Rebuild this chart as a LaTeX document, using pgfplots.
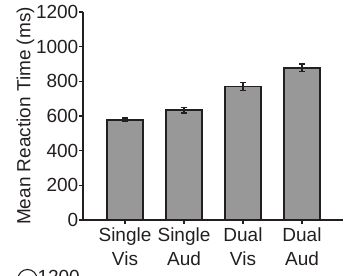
\documentclass[border=0pt]{standalone}
\usepackage{fontspec}
\setmainfont{Liberation Sans}
\usepackage{pgfplots}
\pgfplotsset{compat=1.18}
\definecolor{txt}{RGB}{35,31,32}
\definecolor{barfill}{RGB}{152,152,152}
\newcommand{\lab}{\fontsize{19bp}{24bp}\selectfont}
\begin{document}
\begin{tikzpicture}
\useasboundingbox (0,0) rectangle (346bp,-276bp);
\begin{axis}[
  at={(83bp,-220bp)}, anchor=south west,
  scale only axis, width=260bp, height=208bp,
  xmin=-0.712, xmax=3.695, ymin=0, ymax=1200,
  ybar, bar width=36bp,
  axis x line=bottom, axis y line=left,
  axis line style={-, line width=1.7bp, color=txt},
  tick align=outside, major tick length=3.5bp,
  tick style={line width=1.2bp, color=txt},
  xtick={0,1,2,3},
  xticklabels={{Single\\Vis},{Single\\Aud},{Dual\\Vis},{Dual\\Aud}},
  xticklabel style={align=center, font=\lab, text=txt, inner sep=1bp, yshift=-3bp},
  ytick={0,200,400,600,800,1000,1200},
  yticklabel style={font=\lab, text=txt, inner sep=1bp},
  /pgf/number format/assume math mode=true,
  /pgf/number format/set thousands separator={},
  ylabel={Mean Reaction Time (ms)},
  ylabel style={at={(axis description cs:-0.174,0.5)}, anchor=south, font=\lab, text=txt},
]
\addplot[fill=barfill, draw=txt, line width=1.6bp,
  error bars/.cd, y dir=both, y explicit,
  error bar style={line width=1.2bp, color=txt},
  error mark options={rotate=90, mark size=3bp, line width=1.2bp, color=txt}]
  coordinates {(0,578) +- (0,11) (1,633) +- (0,16) (2,770) +- (0,25) (3,878) +- (0,22)};
\end{axis}
\node[anchor=north east, font=\lab, text=txt, inner sep=0pt] at (80bp,-270.5bp) {1200};
\draw[txt, line width=1.1bp] (27.5bp,-279bp) circle (9.5bp);
\end{tikzpicture}
\end{document}
